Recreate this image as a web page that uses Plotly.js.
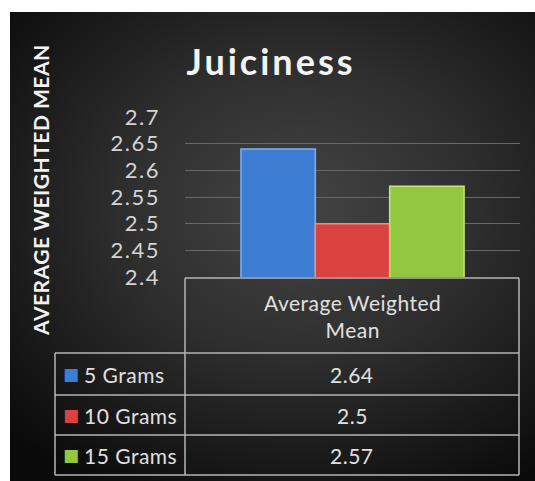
<!DOCTYPE html>
<html>
<head>
<meta charset="utf-8">
<script src="https://cdn.plot.ly/plotly-3.0.1.min.js"></script>
<style>
  html, body { margin:0; padding:0; background:#ffffff; }
  #wrap { position:relative; width:535px; height:481px; overflow:hidden; }
  #bg { position:absolute; left:10px; top:12px; width:525px; height:469px;
        background: radial-gradient(ellipse 75% 70% at 55% 42%, #444444 0%, #2e2e2e 45%, #141414 85%, #0a0a0a 100%); }
  #chart { position:absolute; left:0; top:0; width:535px; height:481px; }
  .gtitle { letter-spacing: 3px; }
  .ytick text { letter-spacing: 1.5px; }
  .annotation-text { letter-spacing: 0.5px; }
</style>
</head>
<body>
<div id="wrap">
  <div id="bg"></div>
  <div id="chart"></div>
</div>
<script>
// ---- data ----
const category = ["Average Weighted Mean"];
const headerText = "Average Weighted<br>Mean";
const seriesNames = ["5 Grams", "10 Grams", "15 Grams"];
const seriesValues = [2.64, 2.5, 2.57];
const valueLabels = ["2.64", "2.5", "2.57"];
const seriesColors = ["#3d7dd3", "#d9423e", "#93c73f"];
const edgeColors = ["#7fb0ee", "#f08a86", "#c4e67f"];
const yTicks = [2.4, 2.45, 2.5, 2.55, 2.6, 2.65, 2.7];
const yTickText = ["2.4", "2.45", "2.5", "2.55", "2.6", "2.65", "2.7"];

// ---- layout geometry (pixels) ----
const W = 535, H = 481;
const L = 185, R = 15, T = 117, B = 204;
const PW = W - L - R, PH = H - T - B;
const px = x => (x - L) / PW;
const py = y => (H - B - y) / PH;

const traces = seriesNames.map((n, i) => ({
  type: "bar",
  name: n,
  x: category,
  y: [seriesValues[i]],
  marker: { color: seriesColors[i], line: { color: edgeColors[i], width: 1.5 } },
  hoverinfo: "skip"
}));

const lineCol = "#b4b4b4";
const shapes = [];
function hline(x0, x1, y) { shapes.push({type:"line", xref:"paper", yref:"paper", x0:px(x0), x1:px(x1), y0:py(y), y1:py(y), line:{color:lineCol, width:1.5}}); }
function vline(x, y0, y1) { shapes.push({type:"line", xref:"paper", yref:"paper", x0:px(x), x1:px(x), y0:py(y0), y1:py(y1), line:{color:lineCol, width:1.5}}); }
hline(185, 519, 278);
vline(185, 278, 475);
vline(519, 278, 475);
vline(55, 353, 475);
const rowLines = [353, 395, 435, 475];
rowLines.forEach(y => hline(55, 519, y));

const txtFont = { family: "Lato, 'Open Sans', sans-serif", size: 21, color: "#e0e0e0" };
const annotations = [];
annotations.push({ xref:"paper", yref:"paper", x:px(352), y:py(316), text: headerText, showarrow:false,
  font: txtFont, xanchor:"center", yanchor:"middle", align:"center" });
seriesNames.forEach((n, i) => {
  const yc = (rowLines[i] + rowLines[i+1]) / 2;
  annotations.push({ xref:"paper", yref:"paper", x:px(352), y:py(yc), text: valueLabels[i], showarrow:false,
    font: txtFont, xanchor:"center", yanchor:"middle" });
  annotations.push({ xref:"paper", yref:"paper", x:px(82), y:py(yc), text: n, showarrow:false,
    font: txtFont, xanchor:"left", yanchor:"middle" });
  annotations.push({ xref:"paper", yref:"paper", x:px(71), y:py(yc), text: "■", showarrow:false,
    font: { family:"DejaVu Sans", size: 17, color: seriesColors[i] }, xanchor:"center", yanchor:"middle" });
});
annotations.push({ xref:"paper", yref:"paper", x:px(40), y:py(190), text:"AVERAGE WEIGHTED MEAN", textangle:-90,
  showarrow:false, font:{ family:"Lato, 'Open Sans', sans-serif", size:21, color:"#f2f2f2", weight:"bold" },
  xanchor:"center", yanchor:"middle" });

const layout = {
  width: W, height: H,
  margin: { l: L, r: R, t: T, b: B, pad: 0 },
  paper_bgcolor: "rgba(0,0,0,0)",
  plot_bgcolor: "rgba(0,0,0,0)",
  showlegend: false,
  barmode: "group",
  bargap: 0.334,
  bargroupgap: 0,
  title: { text: "Juiciness", xref:"container", yref:"container", x: 271/W, y: 1 - 62/H,
           xanchor:"center", yanchor:"middle",
           font: { family: "Lato, 'Open Sans', sans-serif", size: 36, color: "#f4f4f4", weight: "bold" } },
  xaxis: { showticklabels:false, showgrid:false, zeroline:false, showline:false, ticks:"", fixedrange:true },
  yaxis: { range:[2.4, 2.7], tickvals: yTicks, ticktext: yTickText, showgrid:true, gridcolor:"#686868", gridwidth:1,
           zeroline:false, showline:false, ticks:"", ticklabelstandoff: 24,
           tickfont: { family:"Lato, 'Open Sans', sans-serif", size:22, color:"#d4d4d4" } },
  shapes: shapes,
  annotations: annotations
};

Plotly.newPlot("chart", traces, layout, { staticPlot: true, displayModeBar: false });
</script>
</body>
</html>
